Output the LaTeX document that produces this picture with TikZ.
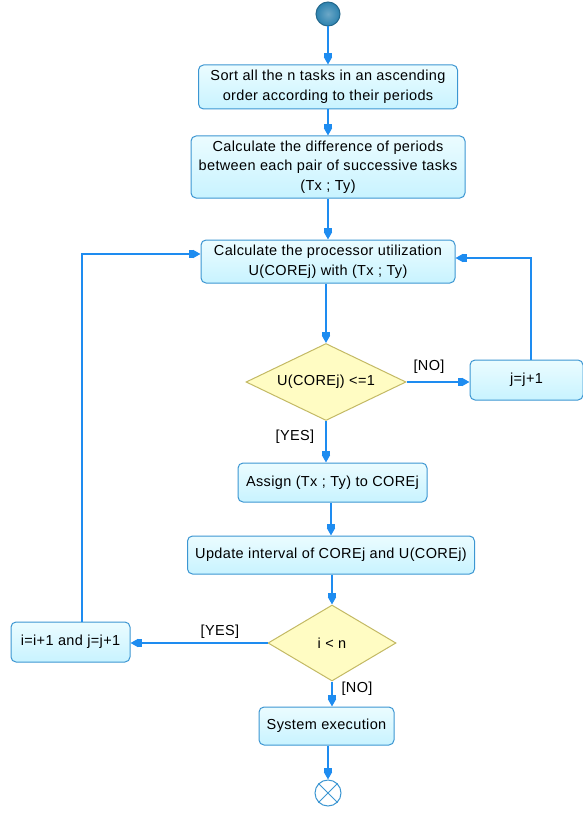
\documentclass[tikz,border=0pt]{standalone}
\usepackage{fontspec}
\setmainfont[LetterSpace=2.5]{Liberation Sans}
\usetikzlibrary{arrows.meta,shapes.geometric}
\definecolor{linecol}{RGB}{30,140,240}
\definecolor{boxline}{RGB}{60,150,210}
\definecolor{boxtop}{RGB}{235,252,255}
\definecolor{boxbot}{RGB}{200,243,255}
\definecolor{decline}{RGB}{195,185,100}
\definecolor{decfill}{RGB}{255,252,195}
\definecolor{startcol}{RGB}{45,130,175}
\tikzset{
	actbox/.style={draw=boxline, line width=1pt, rounded corners=5pt, top color=boxtop, bottom color=boxbot, align=center, inner sep=0pt, font=\fontsize{14.5}{19.5}\selectfont},
	decbox/.style={shape=diamond, draw=decline, line width=1pt, fill=decfill, inner sep=0pt, font=\fontsize{14.5}{19.5}\selectfont},
	flow/.style={draw=linecol, line width=1.5pt, -{Rectangle[width=8pt,length=4pt,sep=0pt]Triangle[width=8pt,length=7.5pt]}},
	guard/.style={inner sep=0pt, font=\fontsize{14.5}{16}\selectfont}
}
\begin{document}
\begin{tikzpicture}[x=1pt,y=1pt,yscale=-1,xscale=1]
	\useasboundingbox (0,0) rectangle (583,813);
	\node [circle, draw=startcol!80!black, line width=1pt, inner color=startcol!70!white, outer color=startcol, minimum size=24pt, inner sep=0pt] (start) at (328,14) {};
	\node [actbox, minimum width=259pt, minimum height=44pt] (sort) at (328,87) {Sort all the n tasks in an ascending\\order according to their periods};
	\node [actbox, minimum width=274pt, minimum height=62pt] (diff) at (328,167) {Calculate the difference of periods\\between each pair of successive tasks\\(Tx ; Ty)};
	\node [actbox, minimum width=254pt, minimum height=43pt] (util) at (328,261.5) {Calculate the processor utilization\\U(COREj) with (Tx ; Ty)};
	\node [decbox, minimum width=160pt, minimum height=77pt, aspect=2.08] (cond1) at (326,382) {U(COREj) <=1};
	\node [actbox, minimum width=113pt, minimum height=40pt] (jbox) at (526.5,380) {j=j+1};
	\node [actbox, minimum width=189pt, minimum height=39pt] (assign) at (332.5,482.5) {Assign (Tx ; Ty) to COREj};
	\node [actbox, minimum width=287pt, minimum height=38pt] (update) at (331,555) {Update interval of COREj and U(COREj)};
	\node [decbox, minimum width=128pt, minimum height=76pt, aspect=1.68] (cond2) at (332,643) {i < n};
	\node [actbox, minimum width=119pt, minimum height=40pt] (ibox) at (70.5,642) {i=i+1 and j=j+1};
	\node [actbox, minimum width=135pt, minimum height=38pt] (sysexec) at (326.5,726) {System execution};
	\node [circle, draw=boxline, line width=1pt, fill=white, minimum size=26pt, inner sep=0pt] (stop) at (328,793) {};
	\draw [boxline, line width=1pt] (stop.north west) -- (stop.south east) (stop.north east) -- (stop.south west);
	\coordinate (jup) at (531,258);
	\coordinate (iup) at (82,254);
	\draw [flow] (start.south) -- (sort.north -| start.south);
	\draw [flow] (sort.south) -- (diff.north -| sort.south);
	\draw [flow] (diff.south) -- (util.north -| diff.south);
	\draw [flow] (cond1.north |- util.south) -- (cond1.north);
	\draw [flow] (cond1.east) -- (jbox.west |- cond1.east);
	\draw [flow] (jbox.north -| jup) -- (jup) -- (util.east |- jup);
	\draw [flow] (cond1.south) -- (assign.north -| cond1.south);
	\draw [flow] (assign.south -| update.south) -- (update.north);
	\draw [flow] (update.south -| cond2.north) -- (cond2.north);
	\draw [flow] (cond2.west) -- (ibox.east |- cond2.west);
	\draw [flow] (ibox.north -| iup) -- (iup) -- (util.west |- iup);
	\draw [flow] (cond2.south) -- (sysexec.north -| cond2.south);
	\draw [flow] (sysexec.south -| stop.north) -- (stop.north);
	\node [guard] (no1) at (429,367) {[NO]};
	\node [guard] (yes1) at (295,437) {[YES]};
	\node [guard] (yes2) at (220,632) {[YES]};
	\node [guard] (no2) at (357,689) {[NO]};
\end{tikzpicture}
\end{document}
